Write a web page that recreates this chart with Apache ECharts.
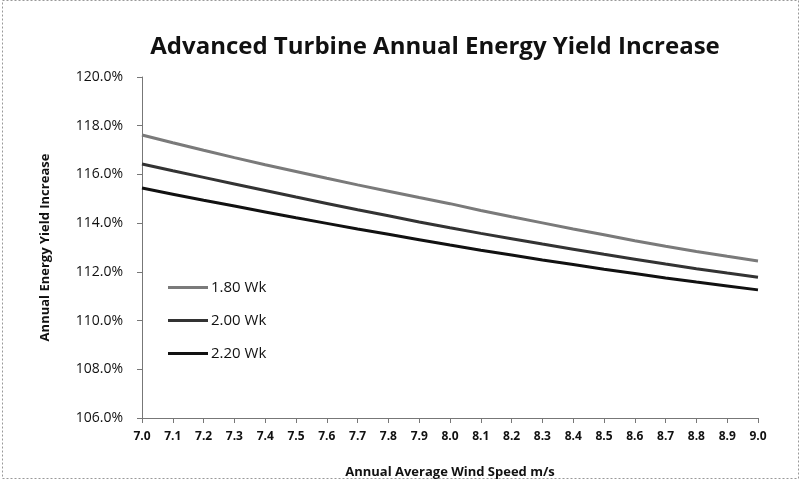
<!DOCTYPE html>
<html>
<head>
<meta charset="utf-8">
<title>Advanced Turbine Annual Energy Yield Increase</title>
<script src="https://cdn.jsdelivr.net/npm/echarts@6/dist/echarts.min.js"></script>
<style>
  html, body { margin: 0; padding: 0; background: #fff; }
  #chart { width: 800px; height: 479px; }
</style>
</head>
<body>
<div id="chart"></div>
<script>
// wind speeds (m/s)
const windSpeeds = ['7.0', '7.1', '7.2', '7.3', '7.4', '7.5', '7.6', '7.7', '7.8', '7.9', '8.0',
  '8.1', '8.2', '8.3', '8.4', '8.5', '8.6', '8.7', '8.8', '8.9', '9.0']

// yield increase in %
const wk180 = [117.62, 117.30, 116.99, 116.69, 116.40, 116.12, 115.84, 115.57, 115.31, 115.05, 114.80,
  114.52, 114.26, 114.01, 113.76, 113.52, 113.28, 113.05, 112.84, 112.64, 112.45]
const wk200 = [116.43, 116.15, 115.88, 115.61, 115.34, 115.07, 114.81, 114.55, 114.30, 114.05, 113.81,
  113.58, 113.36, 113.14, 112.93, 112.72, 112.52, 112.32, 112.13, 111.95, 111.78]
const wk220 = [115.44, 115.19, 114.94, 114.70, 114.46, 114.22, 113.99, 113.76, 113.54, 113.32, 113.10,
  112.89, 112.69, 112.49, 112.30, 112.11, 111.93, 111.75, 111.58, 111.42, 111.26]

const seriesNames = ['1.80 Wk', '2.00 Wk', '2.20 Wk']
const seriesColors = ['#7a7a7a', '#333333', '#111111']

const font = '"Open Sans", "Liberation Sans", sans-serif'

const chart = echarts.init(document.getElementById('chart'))

const series = [wk180, wk200, wk220].map((values, i) => ({
  name: seriesNames[i],
  type: 'line',
  data: values,
  symbol: 'none',
  smooth: false,
  lineStyle: { width: 3, color: seriesColors[i] },
  itemStyle: { color: seriesColors[i] },
  animation: false
}))

chart.setOption({
  backgroundColor: '#fff',
  title: {
    text: 'Advanced Turbine Annual Energy Yield Increase',
    left: 430,
    top: 30,
    textAlign: 'center',
    textStyle: { fontFamily: font, fontSize: 24, fontWeight: 'bold', color: '#111' }
  },
  graphic: [{
    type: 'rect',
    shape: { x: 2.5, y: 0.5, width: 796, height: 478 },
    style: { fill: 'none', stroke: '#999', lineWidth: 1, lineDash: [2, 2] },
    silent: true
  }],
  legend: {
    orient: 'vertical',
    left: 163,
    top: 275,
    itemGap: 18,
    itemWidth: 40,
    itemHeight: 3,
    icon: 'rect',
    data: seriesNames,
    textStyle: { fontFamily: font, fontSize: 15, color: '#111', padding: [0, 0, 0, -2] }
  },
  grid: {
    left: 142,
    right: 42,
    top: 77,
    bottom: 61,
    containLabel: false,
    outerBoundsMode: 'none'
  },
  xAxis: {
    type: 'category',
    data: windSpeeds,
    boundaryGap: false,
    name: 'Annual Average Wind Speed m/s',
    nameLocation: 'middle',
    nameGap: 48,
    nameTextStyle: { fontFamily: font, fontSize: 13, fontWeight: 'bold', color: '#111' },
    axisLine: { lineStyle: { color: '#777', width: 1 } },
    axisTick: { show: true, inside: false, length: 5, lineStyle: { color: '#777' } },
    axisLabel: { fontFamily: font, fontSize: 12, fontWeight: 'bold', color: '#111', margin: 13 },
    splitLine: { show: false }
  },
  yAxis: {
    type: 'value',
    min: 106,
    max: 120,
    interval: 2,
    name: 'Annual Energy Yield Increase',
    nameLocation: 'middle',
    nameRotate: 90,
    nameGap: 90,
    nameTextStyle: { fontFamily: font, fontSize: 13, fontWeight: 'bold', color: '#111' },
    axisLine: { show: true, lineStyle: { color: '#777', width: 1 } },
    axisTick: { show: true, length: 5, lineStyle: { color: '#777' } },
    axisLabel: {
      fontFamily: font,
      fontSize: 14,
      color: '#111',
      margin: 19,
      formatter: v => v.toFixed(1) + '%'
    },
    splitLine: { show: false }
  },
  series: series
})
</script>
</body>
</html>
